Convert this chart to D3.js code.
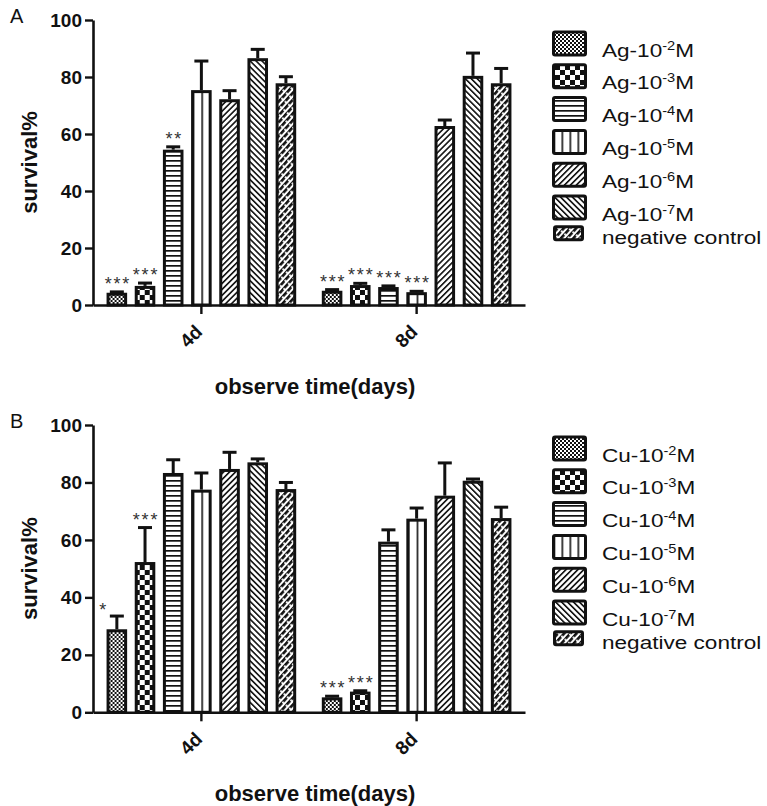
<!DOCTYPE html>
<html>
<head>
<meta charset="utf-8">
<script src="https://cdn.jsdelivr.net/npm/d3@7"></script>
<style>
  body { margin: 0; background: #fff; }
  text { font-family: Arial, "Liberation Sans", Helvetica, sans-serif; fill: #111; }
</style>
</head>
<body>
<div id="chart"></div>
<script>
// --- data ---
const groups = ["4d", "8d"];
const seriesExp = ["-2", "-3", "-4", "-5", "-6", "-7", null];

const agMean4d = [4.3, 6.7, 54.5, 75.4, 72.2, 86.6, 77.8];
const agErr4d  = [0.3, 1.0, 1.0, 10.2, 3.0, 3.1, 2.3];
const agMean8d = [5.0, 7.0, 6.3, 4.5, 62.8, 80.4, 77.8];
const agErr8d  = [0.4, 0.6, 0.4, 0.3, 2.1, 8.0, 5.2];
const agSig4d  = ["***", "***", "**", "", "", "", ""];
const agSig8d  = ["***", "***", "***", "***", "", "", ""];

const cuMean4d = [28.9, 52.3, 83.3, 77.5, 84.7, 87.0, 77.7];
const cuErr4d  = [4.6, 12.0, 4.6, 5.8, 5.8, 1.2, 2.3];
const cuMean8d = [5.2, 7.2, 59.4, 67.4, 75.4, 80.6, 67.6];
const cuErr8d  = [0.4, 0.3, 4.1, 3.7, 11.4, 0.6, 3.8];
const cuSig4d  = ["*", "***", "", "", "", "", ""];
const cuSig8d  = ["***", "***", "", "", "", "", ""];

const yTicks = [0, 20, 40, 60, 80, 100];

const width = 767, height = 806;

var svg = d3.select("#chart").append("svg")
	.attr("width", width)
	.attr("height", height);

svg.append("rect").attr("width", width).attr("height", height).attr("fill", "#fff");

// hatch patterns, one per series
var defs = svg.append("defs");

function pat(id, w, h, opts) {
	var p = defs.append("pattern")
		.attr("id", id)
		.attr("patternUnits", opts.units || "userSpaceOnUse")
		.attr("width", w).attr("height", h);
	if (opts.rot) p.attr("patternTransform", "rotate(" + opts.rot + ")");
	p.append("rect").attr("width", opts.units ? 200 : w).attr("height", opts.units ? 400 : h).attr("fill", "#fff");
	opts.draw(p);
	return p;
}

pat("p0", 4, 4, {draw: p => {
	p.append("rect").attr("width", 2).attr("height", 2).attr("fill", "#111");
	p.append("rect").attr("x", 2).attr("y", 2).attr("width", 2).attr("height", 2).attr("fill", "#111");
}});
pat("p1", 10, 10, {draw: p => {
	p.append("rect").attr("width", 5).attr("height", 5).attr("fill", "#111");
	p.append("rect").attr("x", 5).attr("y", 5).attr("width", 5).attr("height", 5).attr("fill", "#111");
}});
pat("p2", 10, 5, {draw: p => {
	p.append("rect").attr("width", 10).attr("height", 1.7).attr("fill", "#111");
}});
// vertical stripes: bars get one line in the middle, legend boxes three
pat("p3", 0.5, 1, {units: "objectBoundingBox", draw: p => {
	p.append("rect").attr("x", 0).attr("width", 1.6).attr("height", 400).attr("fill", "#111");
}});
pat("p3L", 0.25, 1, {units: "objectBoundingBox", draw: p => {
	p.append("rect").attr("x", 0).attr("width", 1.6).attr("height", 400).attr("fill", "#111");
}});
pat("p4", 4.2, 10, {rot: 45, draw: p => {
	p.append("rect").attr("width", 1.6).attr("height", 10).attr("fill", "#111");
}});
pat("p5", 4.2, 10, {rot: -45, draw: p => {
	p.append("rect").attr("width", 1.6).attr("height", 10).attr("fill", "#111");
}});
// negative control: broken thick diagonals
pat("p6", 4.6, 7, {rot: 42, draw: p => {
	p.append("rect").attr("width", 2.6).attr("height", 5.2).attr("fill", "#111");
	p.append("rect").attr("x", 0).attr("y", 5.2).attr("width", 1).attr("height", 1.8).attr("fill", "#111");
}});

const barFill = ["p0", "p1", "p2", "p3", "p4", "p5", "p6"];
const legFill = ["p0", "p1", "p2", "p3L", "p4", "p5", "p6"];

function drawPanel(cfg) {
	var g = svg.append("g");

	var y = d3.scaleLinear().domain([0, 100]).range([cfg.y0, cfg.y100]);
	var x0 = d3.scaleBand().domain(groups).range([93, 525])
		.paddingInner(0.119).paddingOuter(0.063);
	var x1 = d3.scaleBand().domain(d3.range(7)).range([0, x0.bandwidth()])
		.paddingInner(0.27);

	// panel letter
	g.append("text")
		.attr("x", 10).attr("y", cfg.y100 + 3)
		.attr("font-size", 20)
		.text(cfg.letter);

	var data = [];
	groups.forEach((grp, gi) => {
		cfg.mean[gi].forEach((v, i) => {
			data.push({grp: grp, i: i, v: v, e: cfg.err[gi][i], sig: cfg.sig[gi][i]});
		});
	});

	var bw = x1.bandwidth();
	var bars = g.append("g").selectAll("g")
		.data(data)
		.join("g")
			.attr("transform", d => `translate(${x0(d.grp) + x1(d.i)},0)`);

	bars.append("rect")
		.attr("x", 1.5)
		.attr("y", d => y(d.v) + 1.5)
		.attr("width", bw - 3)
		.attr("height", d => cfg.y0 - y(d.v) - 1.5)
		.attr("fill", d => "url(#" + barFill[d.i] + ")")
		.attr("stroke", "#111")
		.attr("stroke-width", 3);

	// error bars (upper only)
	bars.append("line")
		.attr("x1", bw / 2).attr("x2", bw / 2)
		.attr("y1", d => y(d.v)).attr("y2", d => y(d.v + d.e))
		.attr("stroke", "#111").attr("stroke-width", 3);
	bars.append("line")
		.attr("x1", bw / 2 - 7).attr("x2", bw / 2 + 7)
		.attr("y1", d => y(d.v + d.e)).attr("y2", d => y(d.v + d.e))
		.attr("stroke", "#111").attr("stroke-width", 3);

	// significance stars
	bars.filter(d => d.sig).append("text")
		.attr("x", d => d.sig === "*" ? bw / 2 - 14 : bw / 2)
		.attr("y", d => y(d.v + d.e) - (d.sig === "*" ? 0 : 2))
		.attr("dx", d => d.sig === "*" ? 0 : 1)
		.attr("text-anchor", "middle")
		.attr("font-size", 18)
		.attr("letter-spacing", d => d.sig === "*" ? 0 : 1.8)
		.style("fill", "#333")
		.text(d => d.sig);

	// axes
	var yAxis = g.append("g")
		.attr("transform", "translate(93,0)")
		.call(d3.axisLeft(y).tickValues(yTicks).tickSize(8).tickSizeOuter(0).tickPadding(3));
	yAxis.selectAll("text")
		.attr("font-size", 19).attr("font-weight", "bold")
		.style("font-family", "Arial, 'Liberation Sans', sans-serif");

	var xAxis = g.append("g")
		.attr("transform", `translate(0,${cfg.y0})`)
		.call(d3.axisBottom(x0).tickSize(9).tickSizeOuter(0));
	xAxis.selectAll("text")
		.attr("x", 0).attr("y", 0).attr("dy", 0)
		.attr("text-anchor", "end")
		.attr("transform", "translate(2,28) rotate(-45)")
		.attr("font-size", 19).attr("font-weight", "bold")
		.style("font-family", "Arial, 'Liberation Sans', sans-serif");

	g.selectAll(".domain").attr("stroke", "#111").attr("stroke-width", 2.6);
	g.selectAll(".tick line").attr("stroke", "#111").attr("stroke-width", 2.4);

	g.append("text")
		.attr("transform", `translate(36.5,${(cfg.y0 + cfg.y100) / 2}) rotate(-90)`)
		.attr("text-anchor", "middle")
		.attr("font-size", 22).attr("font-weight", "bold")
		.text("survival%");

	g.append("text")
		.attr("x", 315).attr("y", cfg.y0 + 88.5)
		.attr("text-anchor", "middle")
		.attr("font-size", 22).attr("font-weight", "bold")
		.text("observe time(days)");

	// legend (text in the figure is a little stretched horizontally)
	var top0 = cfg.y100 + 10.5, pitch = 32.8;
	var leg = g.append("g").selectAll("g")
		.data(seriesExp)
		.join("g");
	leg.append("rect")
		.attr("x", (d, i) => i < 6 ? 553.5 : 554.5)
		.attr("y", (d, i) => i < 6 ? top0 + i * pitch + 1.5 : top0 + 6 * pitch - 0.5)
		.attr("width", (d, i) => i < 6 ? 32 : 28)
		.attr("height", (d, i) => i < 6 ? 23 : 13)
		.attr("rx", 1.5)
		.attr("fill", (d, i) => "url(#" + legFill[i] + ")")
		.attr("stroke", "#111").attr("stroke-width", 3);
	var lt = leg.append("text")
		.attr("transform", (d, i) => `translate(602,${i < 6 ? top0 + i * pitch + 26 : top0 + 6 * pitch + 17}) scale(1.22,1)`)
		.attr("font-size", 18.5);
	lt.each(function(d) {
		var t = d3.select(this);
		if (d === null) { t.text("negative control"); return; }
		t.append("tspan").text(cfg.metal + "-10");
		t.append("tspan").attr("dy", -7).attr("font-size", 12).text(d);
		t.append("tspan").attr("dy", 7).text("M");
	});
}

drawPanel({letter: "A", metal: "Ag", y0: 305, y100: 20,
	mean: [agMean4d, agMean8d], err: [agErr4d, agErr8d], sig: [agSig4d, agSig8d]});
drawPanel({letter: "B", metal: "Cu", y0: 712.3, y100: 425,
	mean: [cuMean4d, cuMean8d], err: [cuErr4d, cuErr8d], sig: [cuSig4d, cuSig8d]});
</script>
</body>
</html>
